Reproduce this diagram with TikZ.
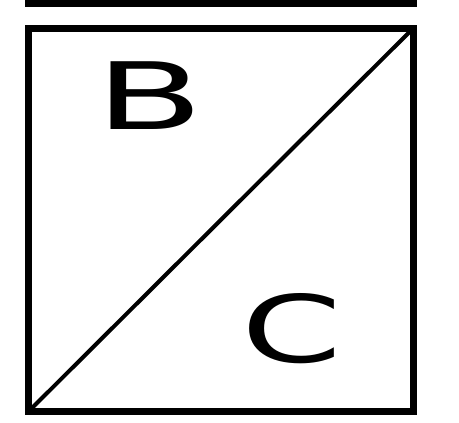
\documentclass[tikz,border=0pt]{standalone}
\usepackage{fontspec}
\usepackage{graphicx}
\newfontfamily\letterfont{DejaVu Sans}
\newcommand{\wideletter}[2]{\scalebox{#1}[1]{#2}}
\tikzset{
    frame/.style={draw=black, line width=7pt, inner sep=0pt, outer sep=0pt},
    split/.style={draw=black, line width=4pt},
    letter/.style={inner sep=0pt, font=\letterfont\fontsize{93}{93}\selectfont}
}

\begin{document}
\begin{tikzpicture}[x=1pt, y=-1pt]
    \useasboundingbox (0,0) rectangle (459,423);
    \clip (0,0) rectangle (459,423);
    % box above, only its lower edge shows
    \node[frame, minimum width=385pt, minimum height=107pt] (upper) at (221,-50) {};
    % main square with the diagonal
    \node[frame, minimum width=385pt, minimum height=383.5pt] (sq) at (221,219.75) {};
    \draw[split] (sq.south west) -- (sq.north east);
    \node[letter] (lb) at (150,96) {\wideletter{1.7}{B}};
    \node[letter] (lc) at (292,329) {\wideletter{1.55}{C}};
\end{tikzpicture}
\end{document}
